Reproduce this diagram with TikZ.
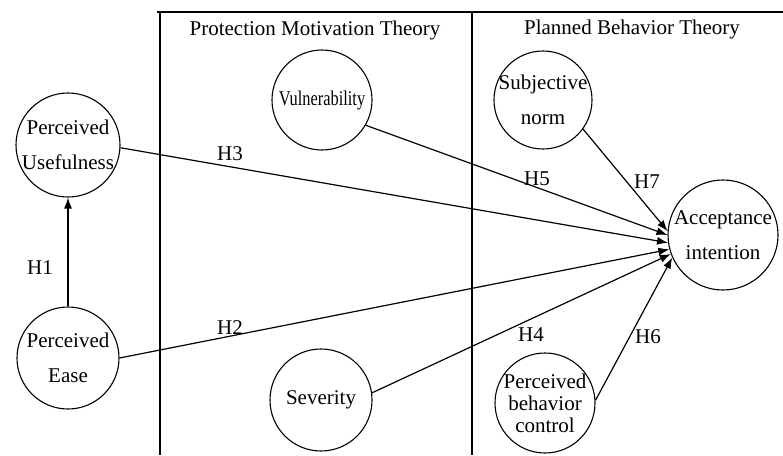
\documentclass[tikz,border=0pt]{standalone}
\usepackage{fontspec}
\setmainfont{Liberation Serif}
\usepackage{graphicx}
\usetikzlibrary{arrows.meta}
\begin{document}
\begin{tikzpicture}[x=1pt,y=-1pt,
  circ/.style={draw, circle, line width=1.1pt, inner sep=0pt},
  ctext/.style={align=center, font=\fontsize{21}{35}\selectfont, inner sep=0pt},
  ctextb/.style={align=center, font=\fontsize{21}{22}\selectfont, inner sep=0pt},
  hyp/.style={font=\fontsize{21}{24}\selectfont, anchor=base, inner sep=0pt},
  ttl/.style={font=\fontsize{21}{24}\selectfont, anchor=base, inner sep=0pt},
  link/.style={line width=1.2pt, -{Latex[length=11pt,width=8pt]}},
  frame/.style={line width=1.4pt}]
\useasboundingbox (0,0) rectangle (783,455);
% frame
\coordinate (tl) at (157,12);
\coordinate (tr) at (783,12);
\coordinate (v1t) at (160,12);
\coordinate (v1b) at (160,455);
\coordinate (v2t) at (472,12);
\coordinate (v2b) at (472,455);
\draw[line width=2.6pt] (tl) -- (tr);
\draw[frame] (v1t) -- (v1b);
\draw[frame] (v2t) -- (v2b);
\node[ttl] (pmt) at (315,35) {Protection Motivation Theory};
\node[ttl] (pbt) at (632,34) {Planned Behavior Theory};
% constructs
\node[circ, minimum size=104pt, label={[ctext]center:{Perceived\\Usefulness}}] (pu) at (68,145) {};
\node[circ, minimum size=102pt, label={[ctext]center:{Perceived\\Ease}}] (pe) at (68,358) {};
\node[circ, minimum size=100pt, label={[ctext]center:{\scalebox{0.78}[1]{Vulnerability}}}] (vul) at (322,100) {};
\node[circ, minimum size=102pt, label={[ctext]center:{Severity}}] (sev) at (321,400) {};
\node[circ, minimum size=98pt, label={[ctext]center:{Subjective\\norm}}] (sub) at (543,100) {};
\node[circ, minimum size=100pt, label={[ctextb]center:{Perceived\\behavior\\control}}] (pbc) at (545,403) {};
\node[circ, minimum size=110pt, label={[ctext]center:{Acceptance\\intention}}] (acc) at (723,235) {};
% paths
\draw[link] (pe.north) -- (pu.south);
\draw[link] (pu.-3) -- (acc.188);
\draw[link] (pe.0) -- (acc.195);
\draw[link] (vul.-30) -- (acc.180);
\draw[link] (sev.8) -- (acc.200);
\draw[link] (sub.-36) -- (acc.176);
\draw[link] (pbc.3) -- (acc.204);
% hypothesis labels
\node[hyp] (h1) at (40,274) {H1};
\node[hyp] (h2) at (230,334) {H2};
\node[hyp] (h3) at (230,160) {H3};
\node[hyp] (h4) at (531,341) {H4};
\node[hyp] (h5) at (537,185) {H5};
\node[hyp] (h6) at (648,343) {H6};
\node[hyp] (h7) at (647,188) {H7};
\end{tikzpicture}
\end{document}
